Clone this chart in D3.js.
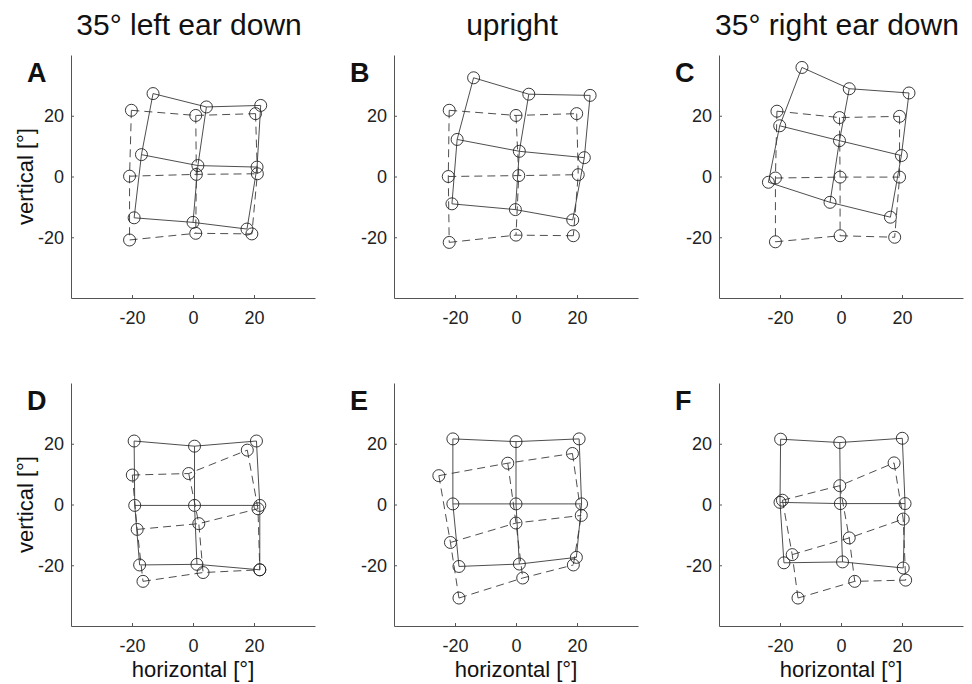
<!DOCTYPE html>
<html>
<head>
<meta charset="utf-8">
<script src="https://cdn.jsdelivr.net/npm/d3@7"></script>
<style>
  html, body { margin: 0; padding: 0; background: #fff; }
  svg { display: block; font-family: "Liberation Sans", Arial, Helvetica, sans-serif; }
</style>
</head>
<body>
<svg id="chart" width="972" height="684"></svg>
<script>
// Column headings (head tilt) and panel letters
const columnTitles = ["35° left ear down", "upright", "35° right ear down"];
const panelLetters = ["A", "B", "C", "D", "E", "F"];
const tickValues = [-20, 0, 20];
const axisDomain = [-40, 40];

// Each grid: three rows (top to bottom) of three [horizontal, vertical] points in degrees
const solidA  = [[[-13.1, 27.3], [4.4, 22.9], [22.2, 23.4]],
                 [[-16.9, 7.2], [1.6, 3.6], [21.0, 3.1]],
                 [[-19.3, -13.6], [0.0, -15.1], [17.7, -17.3]]];
const dashedA = [[[-20.2, 21.8], [0.9, 20.1], [20.5, 20.7]],
                 [[-20.8, 0.1], [1.1, 0.7], [21.1, 0.9]],
                 [[-20.8, -20.9], [0.9, -18.7], [19.3, -18.9]]];

const solidB  = [[[-13.9, 32.5], [4.2, 27.1], [24.3, 26.7]],
                 [[-19.3, 12.2], [1.1, 8.3], [22.4, 6.2]],
                 [[-21.0, -9.0], [-0.2, -10.9], [18.6, -14.3]]];
const dashedB = [[[-21.9, 21.8], [0.0, 20.1], [19.9, 20.7]],
                 [[-22.2, 0.0], [0.9, 0.3], [20.4, 0.6]],
                 [[-21.9, -21.7], [0.0, -19.3], [18.8, -19.5]]];

const solidC  = [[[-12.8, 35.9], [2.7, 28.9], [22.3, 27.5]],
                 [[-20.1, 16.7], [-0.5, 11.8], [19.8, 6.9]],
                 [[-23.8, -1.9], [-3.6, -8.5], [16.2, -13.4]]];
const dashedC = [[[-21.0, 21.5], [-0.5, 19.4], [19.2, 19.8]],
                 [[-21.5, -0.5], [-0.3, -0.2], [19.2, -0.2]],
                 [[-21.5, -21.5], [-0.3, -19.5], [17.6, -20.0]]];

const solidD  = [[[-19.3, 20.9], [0.5, 19.2], [20.8, 20.9]],
                 [[-19.1, -0.3], [0.5, -0.3], [21.9, -0.3]],
                 [[-17.5, -19.9], [1.3, -19.7], [21.9, -21.5]]];
const dashedD = [[[-19.9, 9.7], [-1.4, 10.2], [17.8, 17.9]],
                 [[-18.3, -8.2], [1.9, -6.3], [21.3, -1.4]],
                 [[-16.4, -25.3], [3.3, -22.4], [21.9, -21.5]]];

const solidE  = [[[-20.7, 21.6], [0.0, 20.7], [20.7, 21.6]],
                 [[-20.7, 0.2], [0.0, 0.2], [21.5, 0.2]],
                 [[-18.7, -20.4], [1.1, -19.6], [19.8, -17.4]]];
const dashedE = [[[-25.3, 9.5], [-2.7, 13.6], [18.5, 16.8]],
                 [[-21.5, -12.5], [0.0, -6.1], [21.4, -3.6]],
                 [[-18.7, -30.8], [2.2, -24.2], [18.8, -19.9]]];

const solidF  = [[[-19.8, 21.5], [-0.4, 20.4], [20.1, 21.8]],
                 [[-20.0, 0.7], [-0.2, 0.3], [21.0, 0.3]],
                 [[-18.7, -19.2], [0.5, -18.9], [20.4, -20.9]]];
const dashedF = [[[-19.2, 1.4], [-0.4, 6.2], [17.4, 13.7]],
                 [[-16.0, -16.5], [2.7, -11.0], [20.4, -4.8]],
                 [[-14.1, -30.8], [4.5, -25.3], [21.2, -24.9]]];

const solidGrids  = [solidA, solidB, solidC, solidD, solidE, solidF];
const dashedGrids = [dashedA, dashedB, dashedC, dashedD, dashedE, dashedF];

// Layout
const panelW = 244, panelH = 243;
const colLeft = [71, 394, 719];
const rowTop = [55, 383];

const svg = d3.select("#chart");

const line = d3.line();

function drawGrid(g, grid, x, y, dashed) {
  const rows = grid;
  const cols = [0, 1, 2].map(c => grid.map(r => r[c]));
  const paths = rows.concat(cols).map(pts => pts.map(p => [x(p[0]), y(p[1])]));
  g.selectAll(null).data(paths).enter().append("path")
    .attr("d", line)
    .attr("fill", "none")
    .attr("stroke", "#3a3a3a")
    .attr("stroke-width", 0.9)
    .attr("stroke-dasharray", dashed ? "8,5" : null);
  g.selectAll(null).data(grid.flat()).enter().append("circle")
    .attr("cx", d => x(d[0]))
    .attr("cy", d => y(d[1]))
    .attr("r", 6)
    .attr("fill", "none")
    .attr("stroke", "#222")
    .attr("stroke-width", 0.9);
}

panelLetters.forEach((letter, i) => {
  const col = i % 3, row = Math.floor(i / 3);
  const left = colLeft[col], top = rowTop[row];
  const x = d3.scaleLinear().domain(axisDomain).range([left, left + panelW]);
  const y = d3.scaleLinear().domain(axisDomain).range([top + panelH, top]);

  const g = svg.append("g");

  // axes (left and bottom only, short inward ticks)
  const ax = g.append("g")
    .attr("transform", `translate(0,${top + panelH})`)
    .call(d3.axisBottom(x).tickValues(tickValues).tickSize(-3).tickSizeOuter(0).tickPadding(10)
      .tickFormat(d3.format("d")));
  const ay = g.append("g")
    .attr("transform", `translate(${left},0)`)
    .call(d3.axisLeft(y).tickValues(tickValues).tickSize(-3).tickSizeOuter(0).tickPadding(7)
      .tickFormat(d3.format("d")));
  [ax, ay].forEach(a => {
    a.select(".domain").attr("stroke", "#555").attr("stroke-width", 1);
    a.selectAll(".tick line").attr("stroke", "#555");
    a.selectAll(".tick text")
      .attr("font-size", 18)
      .attr("fill", "#222")
      .attr("font-family", '"Liberation Sans", Arial, sans-serif');
  });
  ax.selectAll(".tick text").attr("dy", "0.9em");
  ay.selectAll(".tick text").text(d => d === 0 ? "0" : d);
  ax.selectAll(".tick text").text(d => d === 0 ? "0" : d);

  drawGrid(g.append("g"), dashedGrids[i], x, y, true);
  drawGrid(g.append("g"), solidGrids[i], x, y, false);

  // panel letter
  g.append("text")
    .attr("x", left - 44)
    .attr("y", top + 27)
    .attr("font-size", 27)
    .attr("font-weight", "bold")
    .attr("fill", "#111")
    .text(letter);

  // column heading on the top row
  if (row === 0) {
    g.append("text")
      .attr("x", left + panelW / 2 - 4)
      .attr("y", 35)
      .attr("text-anchor", "middle")
      .attr("font-size", 30)
      .attr("fill", "#111")
      .text(columnTitles[col]);
  }
  // vertical label in the first column
  if (col === 0) {
    g.append("text")
      .attr("transform", `translate(33,${top + panelH / 2}) rotate(-90)`)
      .attr("text-anchor", "middle")
      .attr("font-size", 22)
      .attr("fill", "#111")
      .text("vertical [°]");
  }
  // horizontal label on the bottom row
  if (row === 1) {
    g.append("text")
      .attr("x", left + panelW / 2)
      .attr("y", top + panelH + 51)
      .attr("text-anchor", "middle")
      .attr("font-size", 22)
      .attr("fill", "#111")
      .text("horizontal [°]");
  }
});
</script>
</body>
</html>
